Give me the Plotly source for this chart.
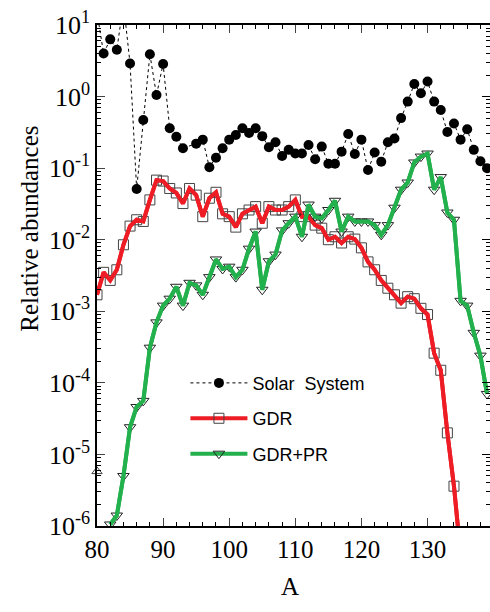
import plotly.graph_objects as go

# Mass numbers and abundances
A_solar = [80, 81, 82, 83, 84, 85, 86, 87, 88, 89, 90, 91, 92, 93, 95, 96, 97, 98, 99,
           100, 101, 102, 103, 104, 105, 106, 107, 108, 109, 110, 111, 112, 113, 114,
           115, 116, 117, 118, 119, 120, 121, 122, 123, 124, 125, 126, 127, 128, 129,
           130, 131, 132, 133, 134, 135, 136, 137, 138, 139]
solar = [15.0, 4.0, 6.3, 4.5, 20.0, 2.9, 0.051, 0.47, 3.9, 1.05, 2.85, 0.36, 0.275, 0.19,
         0.22, 0.25, 0.103, 0.14, 0.19, 0.25, 0.29, 0.36, 0.31, 0.36, 0.28, 0.196, 0.23,
         0.148, 0.18, 0.16, 0.16, 0.21, 0.133, 0.20, 0.115, 0.115, 0.17, 0.30, 0.158,
         0.25, 0.094, 0.165, 0.123, 0.23, 0.26, 0.50, 0.85, 1.5, 1.11, 1.62, 0.85, 0.65,
         0.32, 0.42, 0.25, 0.35, 0.18, 0.125, 0.10]

A_gdr = list(range(80, 136))
gdr = [0.0017, 0.0035, 0.0027, 0.0038, 0.0085, 0.0155, 0.019, 0.018, 0.036, 0.068,
       0.066, 0.052, 0.045, 0.032, 0.052, 0.042, 0.021, 0.038, 0.046, 0.023,
       0.021, 0.015, 0.023, 0.026, 0.029, 0.017, 0.029, 0.026, 0.026, 0.029,
       0.036, 0.021, 0.021, 0.016, 0.0145, 0.010, 0.011, 0.009, 0.011, 0.0102,
       0.0077, 0.0049, 0.0038, 0.0027, 0.0021, 0.0017, 0.0013, 0.0016, 0.0015, 0.0011,
       0.0009, 2.6e-4, 1.5e-4, 2.0e-5, 3.6e-6, 4e-7]

A_pr = list(range(82, 140))
gdr_pr = [1.05e-6, 1.4e-6, 5e-6, 2.4e-5, 4.6e-5, 5.6e-5, 3.1e-4, 7e-4,
          0.0012, 0.0015, 0.0022, 0.0012, 0.0025, 0.0023, 0.0017, 0.0030, 0.0053, 0.0039,
          0.0042, 0.0030, 0.0038, 0.0075, 0.013, 0.0020, 0.0050, 0.0062, 0.0135, 0.017,
          0.021, 0.011, 0.031, 0.021, 0.020, 0.026, 0.035, 0.013, 0.021, 0.018,
          0.018, 0.018, 0.016, 0.0117, 0.016, 0.028, 0.050, 0.063, 0.12, 0.145,
          0.16, 0.050, 0.075, 0.024, 0.019, 0.0014, 0.0012, 5e-4, 2.4e-4, 7e-5]

A_single = [80]
single = [5.8e-6]

y_ticks = [1e-6, 1e-5, 1e-4, 1e-3, 1e-2, 1e-1, 1e0, 1e1]
y_ticktext = ["10<sup>-6</sup>", "10<sup>-5</sup>", "10<sup>-4</sup>", "10<sup>-3</sup>",
              "10<sup>-2</sup>", "10<sup>-1</sup>", "10<sup>0</sup>", "10<sup>1</sup>"]
x_ticks = [80, 90, 100, 110, 120, 130]

RED = "#ee1c24"
GREEN = "#22b14c"
SERIF = "Liberation Serif"
SANS = "Liberation Sans"

minor_y = [m * 10.0 ** e for e in range(-6, 1) for m in range(2, 10)]

fig = go.Figure()

# Solar system abundances: dotted line with filled circles
fig.add_trace(go.Scatter(
    x=A_solar, y=solar, mode="lines+markers", name="Solar  System",
    line=dict(color="black", width=1, dash="dot"),
    marker=dict(symbol="circle", size=10, color="black"),
    legendrank=1, legendgroup="solar",
))

# GDR: open squares beneath a thick red line
fig.add_trace(go.Scatter(
    x=A_gdr, y=gdr, mode="lines+markers", name="GDR",
    line=dict(color=RED, width=4),
    marker=dict(symbol="square-open", size=10, color="#444444", line=dict(width=1)),
    legendrank=2, legendgroup="gdr",
))
fig.add_trace(go.Scatter(
    x=A_gdr, y=gdr, mode="lines", showlegend=False, hoverinfo="skip",
    line=dict(color=RED, width=4), legendgroup="gdr",
))

# GDR+PR: open down-triangles beneath a thick green line
fig.add_trace(go.Scatter(
    x=A_pr, y=gdr_pr, mode="lines+markers", name="GDR+PR",
    line=dict(color=GREEN, width=4),
    marker=dict(symbol="triangle-down-open", size=10, color="#222222", line=dict(width=1)),
    legendrank=3, legendgroup="pr",
))
fig.add_trace(go.Scatter(
    x=A_pr, y=gdr_pr, mode="lines", showlegend=False, hoverinfo="skip",
    line=dict(color=GREEN, width=4), legendgroup="pr",
))

# Lone open up-triangle at the left edge
fig.add_trace(go.Scatter(
    x=A_single, y=single, mode="markers", showlegend=False, hoverinfo="skip",
    marker=dict(symbol="triangle-up-open", size=9, color="#444444", line=dict(width=1)),
    cliponaxis=False,
))

# Empty trace that keeps the right-hand tick axis alive
fig.add_trace(go.Scatter(x=[None], y=[None], yaxis="y2", showlegend=False, hoverinfo="skip"))

fig.update_layout(
    width=490, height=612,
    margin=dict(l=97, r=0, t=25, b=86),
    paper_bgcolor="white", plot_bgcolor="white",
    showlegend=True,
    legend=dict(
        x=0.225, y=0.322, xanchor="left", yanchor="top",
        bgcolor="rgba(0,0,0,0)", borderwidth=0,
        font=dict(family=SANS, size=18, color="black"),
        itemwidth=57, tracegroupgap=9,
    ),
    annotations=[
        dict(text="Relative abundances", xref="paper", yref="paper",
             x=-0.171, y=0.593, textangle=-90, showarrow=False,
             xanchor="center", yanchor="middle",
             font=dict(family=SERIF, size=25, color="black")),
        dict(text="A", xref="paper", yref="paper", x=0.49, y=-0.09,
             showarrow=False, yanchor="top",
             font=dict(family=SERIF, size=25, color="black")),
    ],
    yaxis2=dict(
        type="log", range=[-6, 1], overlaying="y", side="right",
        tickvals=y_ticks, showticklabels=False, ticks="inside", ticklen=8,
        tickcolor="black", showline=False, showgrid=False, zeroline=False,
        minor=dict(tickvals=minor_y, ticks="inside", ticklen=4, tickcolor="black", showgrid=False),
    ),
)

fig.update_xaxes(
    range=[80, 139.45], tickvals=x_ticks, ticks="inside", ticklen=8, tickwidth=1,
    showline=True, linecolor="black", linewidth=1.5, mirror="ticks",
    showgrid=False, zeroline=False,
    tickfont=dict(family=SERIF, size=25, color="black"),
    minor=dict(dtick=2, ticks="inside", ticklen=4, tickcolor="black", showgrid=False),
)
fig.update_yaxes(
    selector=dict(overlaying=None),
    type="log", range=[-6, 1], tickvals=y_ticks, ticktext=y_ticktext,
    ticks="inside", ticklen=8, tickwidth=1,
    showline=True, linecolor="black", linewidth=1.5, mirror=False,
    showgrid=False, zeroline=False,
    tickfont=dict(family=SERIF, size=26, color="black"),
    minor=dict(tickvals=minor_y, ticks="inside", ticklen=4, tickcolor="black", showgrid=False),
)

fig.write_html("out.html")
